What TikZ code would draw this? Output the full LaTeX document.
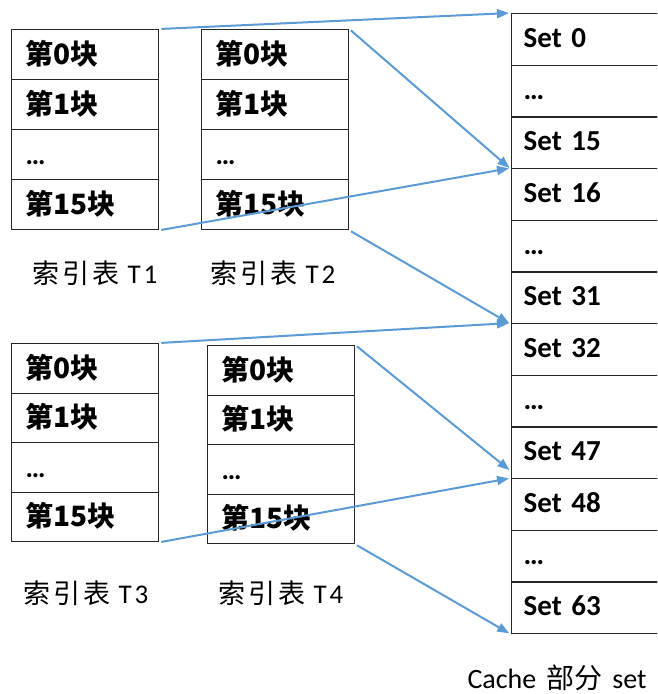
\documentclass[tikz,border=0pt]{standalone}
\usepackage{fontspec}
\setmainfont{Carlito}
\newfontfamily\cjk{Noto Sans CJK SC}
\usetikzlibrary{arrows.meta,calc}
\definecolor{arrowblue}{HTML}{5B9BD5}
\newcommand{\kuai}[1]{{\cjk\bfseries 第#1块}}
\newcommand{\labtxt}[1]{{\cjk 索}\hspace{3pt}{\cjk 引}\hspace{3pt}{\cjk 表}\hspace{8pt}T\hspace{3pt}#1}
\begin{document}
\begin{tikzpicture}[x=1pt,y=-1pt,
  tbl/.style={draw=black!85, line width=1.3pt, inner xsep=14pt, inner ysep=0pt,
    text width=119pt, align=left, text height=22pt, text depth=2pt,
    font=\fontsize{28}{30}\selectfont\bfseries},
  cset/.style={draw=black!85, line width=1.3pt, inner xsep=12pt, inner ysep=0pt,
    text width=130pt, align=left, text height=20pt, text depth=4pt,
    minimum height=51.67pt, font=\fontsize{29}{31}\selectfont\bfseries},
  lab/.style={inner sep=0pt, anchor=base, font=\fontsize{27}{29}\selectfont},
  clab/.style={inner sep=0pt, anchor=base, font=\fontsize{28}{30}\selectfont},
  arr/.style={draw=arrowblue, line width=2pt, -{Triangle[length=12pt,width=9pt]},
    shorten >=2pt, shorten <=2pt}]
\clip (0,0) rectangle (657,694);
% index tables
\foreach \t/\xl/\yt/\h in {1/11/29/50, 2/201/29/50, 3/11/343/49.5, 4/207/345/49.5} {
  \node[tbl, minimum height={\h pt}, anchor=north west] (t\t c0) at (\xl, \yt) {\kuai{0}};
  \node[tbl, minimum height={\h pt}, anchor=north west] (t\t c1) at (\xl, \yt+\h) {\kuai{1}};
  \node[tbl, minimum height={\h pt}, anchor=north west] (t\t c2) at (\xl, \yt+2*\h) {…};
  \node[tbl, minimum height={\h pt}, anchor=north west] (t\t c3) at (\xl, \yt+3*\h) {\kuai{15}};
}
% cache sets
\foreach \i/\txt in {0/Set 0, 1/…, 2/Set 15, 3/Set 16, 4/…, 5/Set 31, 6/Set 32, 7/…, 8/Set 47, 9/Set 48, 10/…, 11/Set 63} {
  \node[cset, anchor=north west] (c\i) at (511, 13+\i*51.67) {\txt};
}
% labels
\node[lab] (l1) at (95,283) {\labtxt{1}};
\node[lab] (l2) at (273,283) {\labtxt{2}};
\node[lab] (l3) at (86,603) {\labtxt{3}};
\node[lab] (l4) at (281,603) {\labtxt{4}};
\node[clab] (lc) at (557,688) {Cache\hspace{10pt}{\cjk 部分}\hspace{10pt}set};
% arrows
\draw[arr] (t1c0.north east) -- (c0.north west);
\draw[arr] (t2c0.north east) -- (c2.south west);
\draw[arr] (t1c3.south east) -- (c3.north west);
\draw[arr] (t2c3.south east) -- (c5.south west);
\draw[arr] (t3c0.north east) -- (c6.north west);
\draw[arr] (t4c0.north east) -- ($(c8.south west)+(0,-8)$);
\draw[arr] (t3c3.south east) -- (c9.north west);
\draw[arr] (t4c3.south east) -- (c11.south west);
\end{tikzpicture}
\end{document}
